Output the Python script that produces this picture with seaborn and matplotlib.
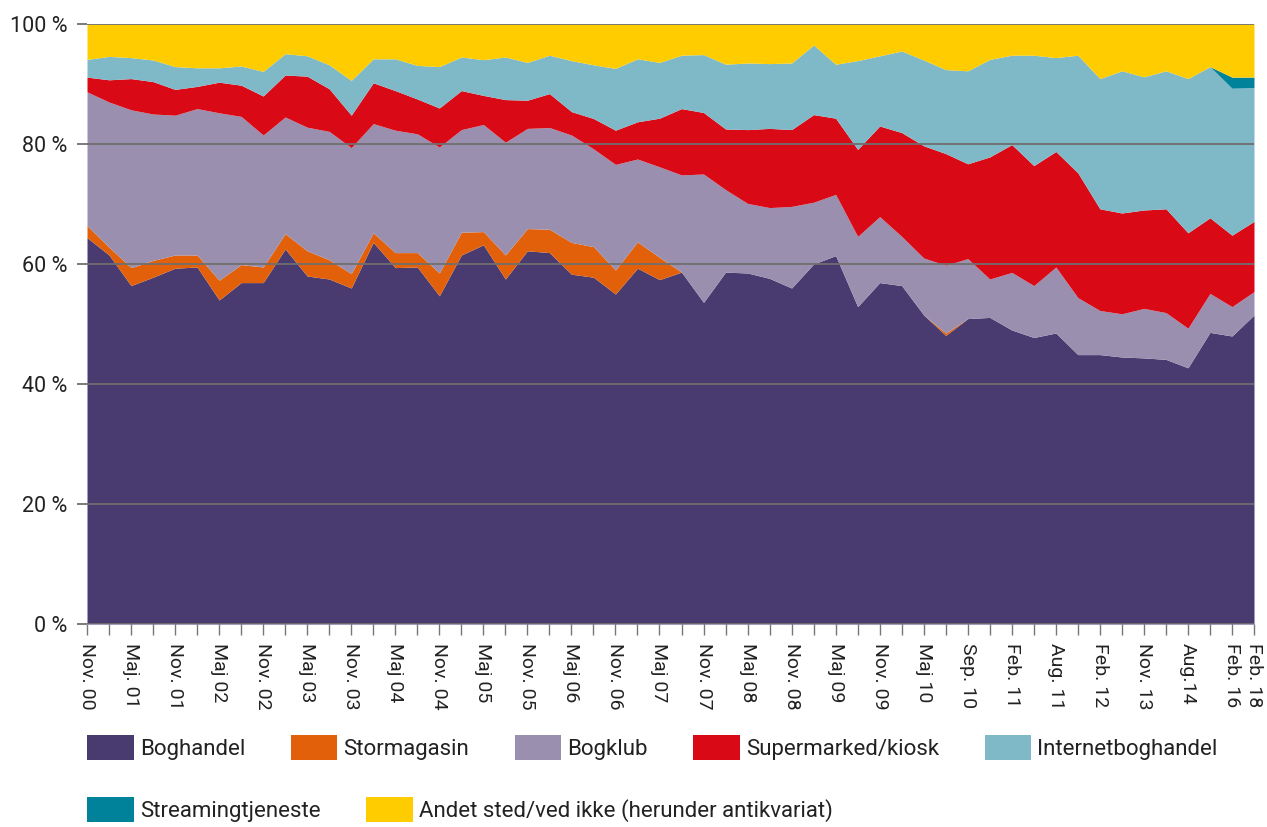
import matplotlib
matplotlib.use("Agg")
import matplotlib.pyplot as plt
from matplotlib.patches import Patch
import seaborn as sns
import numpy as np

periods = ["Nov. 00", "", "Maj. 01", "", "Nov. 01", "", "Maj 02", "", "Nov. 02", "",
           "Maj 03", "", "Nov. 03", "", "Maj 04", "", "Nov. 04", "", "Maj 05", "",
           "Nov. 05", "", "Maj 06", "", "Nov. 06", "", "Maj 07", "", "Nov. 07", "",
           "Maj 08", "", "Nov. 08", "", "Maj 09", "", "Nov. 09", "", "Maj 10", "",
           "Sep. 10", "", "Feb. 11", "", "Aug. 11", "", "Feb. 12", "", "Nov. 13", "",
           "Aug.14", "", "Feb. 16", "Feb. 18"]

boghandel = [64.4, 61.5, 56.4, 57.8, 59.3, 59.5, 54.0, 56.9, 56.9, 62.5,
             58.0, 57.5, 56.0, 63.6, 59.4, 59.5, 54.7, 61.5, 63.2, 57.5,
             62.2, 61.9, 58.3, 57.8, 55.0, 59.3, 57.4, 58.65, 53.6, 58.65,
             58.5, 57.6, 56.0, 60.0, 61.4, 52.9, 56.9, 56.4, 51.5, 48.1,
             50.9, 51.1, 49.0, 47.75, 48.5, 44.9, 44.9, 44.5, 44.35, 44.1,
             42.7, 48.6, 48.0, 51.5]
stormagasin = [2.0, 1.3, 3.0, 2.8, 2.2, 2.0, 3.3, 3.0, 2.6, 2.55,
               4.2, 3.2, 2.4, 1.6, 2.5, 2.4, 3.8, 3.8, 2.2, 4.0,
               3.7, 3.9, 5.3, 5.1, 4.0, 4.4, 3.7, 0.0, 0.0, 0.0,
               0.0, 0.0, 0.0, 0.0, 0.0, 0.0, 0.0, 0.0, 0.0, 0.4,
               0.0, 0.0, 0.0, 0.0, 0.0, 0.0, 0.0, 0.0, 0.0, 0.0,
               0.0, 0.0, 0.0, 0.0]
bogklub = [22.3, 24.2, 26.3, 24.4, 23.3, 24.4, 27.9, 24.7, 22.0, 19.45,
           20.6, 21.4, 21.0, 18.2, 20.4, 19.8, 21.0, 17.1, 17.85, 18.8,
           16.7, 16.95, 17.9, 16.3, 17.6, 13.8, 15.1, 16.2, 21.4, 13.75,
           11.6, 11.8, 13.6, 10.3, 10.2, 11.7, 11.0, 8.2, 9.5, 11.3,
           10.0, 6.4, 9.6, 8.65, 11.0, 9.5, 7.35, 7.2, 8.25, 7.8,
           6.6, 6.5, 4.9, 3.9]
supermarked = [2.45, 3.7, 5.2, 5.4, 4.3, 3.7, 5.1, 5.2, 6.5, 7.0,
               8.5, 7.1, 5.4, 6.8, 6.6, 5.8, 6.5, 6.5, 4.85, 7.1,
               4.7, 5.65, 3.9, 5.05, 5.7, 6.2, 8.1, 11.05, 10.25, 10.1,
               12.3, 13.2, 12.8, 14.6, 12.7, 14.5, 15.1, 17.3, 18.7, 18.6,
               15.8, 20.35, 21.3, 20.0, 19.25, 20.8, 16.95, 16.8, 16.4, 17.3,
               15.9, 12.6, 11.9, 11.7]
internet = [2.95, 3.9, 3.5, 3.6, 3.8, 3.1, 2.4, 3.2, 4.1, 3.55,
            3.4, 4.0, 5.8, 4.0, 5.3, 5.6, 6.9, 5.6, 5.95, 7.1,
            6.3, 6.4, 8.5, 8.95, 10.3, 10.5, 9.3, 8.9, 9.65, 10.8,
            11.1, 10.8, 11.1, 11.6, 9.0, 14.8, 11.7, 13.6, 14.3, 14.0,
            15.5, 16.25, 14.9, 18.4, 15.65, 19.6, 21.7, 23.7, 22.2, 23.0,
            25.7, 25.2, 24.5, 22.3]
streaming = [0.0, 0.0, 0.0, 0.0, 0.0, 0.0, 0.0, 0.0, 0.0, 0.0,
             0.0, 0.0, 0.0, 0.0, 0.0, 0.0, 0.0, 0.0, 0.0, 0.0,
             0.0, 0.0, 0.0, 0.0, 0.0, 0.0, 0.0, 0.0, 0.0, 0.0,
             0.0, 0.0, 0.0, 0.0, 0.0, 0.0, 0.0, 0.0, 0.0, 0.0,
             0.0, 0.0, 0.0, 0.0, 0.0, 0.0, 0.0, 0.0, 0.0, 0.0,
             0.0, 0.0, 1.85, 1.75]
andet = [5.9, 5.4, 5.6, 6.0, 7.1, 7.3, 7.3, 7.0, 7.9, 4.95,
         5.3, 6.8, 9.4, 5.8, 5.8, 6.9, 7.1, 5.5, 5.95, 5.5,
         6.4, 5.2, 6.1, 6.8, 7.4, 5.8, 6.4, 5.2, 5.1, 6.7,
         6.5, 6.6, 6.5, 3.5, 6.7, 6.1, 5.3, 4.5, 6.0, 7.6,
         7.8, 5.9, 5.2, 5.2, 5.6, 5.2, 9.1, 7.8, 8.8, 7.8,
         9.1, 7.1, 8.85, 8.85]

series_names = ["Boghandel", "Stormagasin", "Bogklub", "Supermarked/kiosk",
                "Internetboghandel", "Streamingtjeneste",
                "Andet sted/ved ikke (herunder antikvariat)"]
series_colors = ["#493B6F", "#E2600A", "#9A8FAE", "#D90915",
                 "#7FB9C8", "#00829A", "#FFCC00"]
y_ticks = [0, 20, 40, 60, 80, 100]

sns.set_theme(style="white")
plt.rcParams["font.family"] = ["Roboto", "DejaVu Sans"]
palette = sns.color_palette(series_colors)

W, H = 1267, 827
fig = plt.figure(figsize=(W / 100, H / 100), dpi=100)
ax = fig.add_axes([87 / W, (H - 624) / H, (1254 - 87) / W, 600 / H])

x = np.arange(len(periods))
ax.stackplot(x, boghandel, stormagasin, bogklub, supermarked, internet,
             streaming, andet, colors=palette, linewidth=0, zorder=1)

ax.set_xlim(0, len(periods) - 1)
ax.set_ylim(0, 100)
grid_c = "#6f6f6f"
for v in y_ticks:
    ax.axhline(v, color=grid_c, lw=1.3, zorder=3)
for s in ax.spines.values():
    s.set_visible(False)

ax.set_yticks(y_ticks)
ax.set_yticklabels([f"{v} %" for v in y_ticks])
ax.set_xticks(x)
ax.set_xticklabels(periods, rotation=-90, va="top", ha="center")
ax.tick_params(axis="y", length=7.2, width=1.3, color=grid_c, pad=7,
               labelsize=15.5, labelcolor="#222222", left=True)
ax.tick_params(axis="x", length=8, width=1.0, color="#777777", pad=6,
               labelsize=14, labelcolor="#222222", bottom=True)

handles = [Patch(facecolor=c, edgecolor="none") for c in palette]
leg_kw = dict(frameon=False, borderpad=0, borderaxespad=0, handlelength=2.1,
              handleheight=1.35, handletextpad=0.27, columnspacing=2.05,
              fontsize=16, labelcolor="#222222", loc="upper left")
leg1 = fig.legend(handles[:5], series_names[:5], ncol=5,
                  bbox_to_anchor=(87 / W, 1 - 735 / H), **leg_kw)
leg2 = fig.legend(handles[5:], series_names[5:], ncol=2,
                  bbox_to_anchor=(87 / W, 1 - 797 / H), **leg_kw)

fig.savefig("out.png", dpi=100)
